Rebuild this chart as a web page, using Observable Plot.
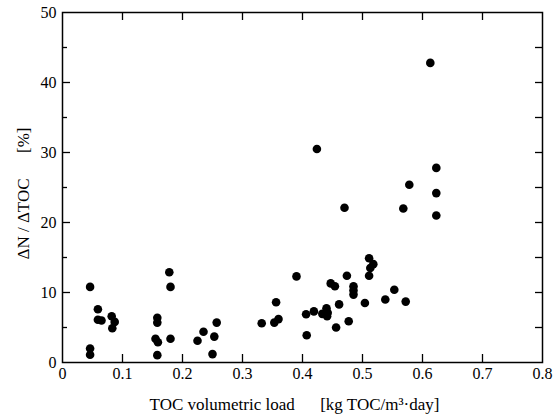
<!DOCTYPE html>
<html><head><meta charset="utf-8">
<script src="https://cdn.jsdelivr.net/npm/d3@7"></script>
<script src="https://cdn.jsdelivr.net/npm/@observablehq/plot@0.6"></script>
<style>
body{margin:0;background:#fff}
</style>
</head><body><div id="chart"></div>
<script>
// TOC volumetric load [kg TOC/m3·day]
const tocLoad = [0.046,0.046,0.046,0.059,0.059,0.065,0.082,0.087,0.083,0.158,0.158,0.155,0.159,0.158,0.178,0.180,0.180,0.225,0.235,0.250,0.253,0.257,0.332,0.353,0.356,0.360,0.390,0.406,0.407,0.419,0.424,0.433,0.440,0.442,0.441,0.447,0.454,0.456,0.461,0.470,0.474,0.477,0.485,0.485,0.485,0.504,0.511,0.513,0.518,0.511,0.538,0.553,0.568,0.572,0.578,0.613,0.623,0.623,0.623];
// ΔN / ΔTOC [%]
const ratio = [10.8,2.0,1.1,7.6,6.1,6.0,6.6,5.8,4.9,6.4,5.7,3.4,2.9,1.05,12.9,10.8,3.4,3.1,4.4,1.2,3.7,5.7,5.6,5.7,8.6,6.2,12.3,6.9,3.9,7.3,30.5,6.95,7.75,7.1,6.6,11.3,10.9,5.0,8.3,22.1,12.4,5.9,10.9,10.3,9.7,8.5,14.9,13.5,14.05,12.4,9.0,10.4,22.0,8.7,25.4,42.8,27.8,24.2,21.0];

const xTicks = [0,0.1,0.2,0.3,0.4,0.5,0.6,0.7,0.8];
const xTickLabels = ["0","0.1","0.2","0.3","0.4","0.5","0.6","0.7","0.8"];
const xInnerTicks = [0.1,0.2,0.3,0.4,0.5,0.6,0.7];
const yTicks = [0,10,20,30,40,50];
const yTickLabels = ["0","10","20","30","40","50"];
const yMajorInner = [10,20,30,40];
const yMinorInner = [5,15,25,35,45];
const yRightTicks = [5,10,15,20,25,30,35,40,45];
const xTitle = "TOC volumetric load\u2003\u2002[kg TOC/m\u00B3\u00B7day]";
const yTitle = "\u0394N / \u0394TOC\u2003\u2002[%]";

const points = tocLoad.map((x, i) => ({x, y: ratio[i]}));

const W = 557, H = 414, ML = 62, MR = 15, MT = 12, MB = 52;
const pw = W - ML - MR, ph = H - MT - MB;
const FF = "Times New Roman";

const chart = Plot.plot({
  width: W, height: H,
  marginLeft: ML, marginRight: MR, marginTop: MT, marginBottom: MB,
  style: {background: "white", color: "black"},
  x: {domain: [0, 0.8], axis: null},
  y: {domain: [0, 50], axis: null},
  marks: [
    Plot.frame({stroke: "black", strokeWidth: 1.5}),
    // tick labels
    Plot.text(xTicks, {x: d => d, frameAnchor: "bottom", text: (d, i) => xTickLabels[i], dy: 11, fontSize: 16, fontFamily: FF, fill: "black", textAnchor: "middle", lineAnchor: "middle"}),
    Plot.text(yTicks, {y: d => d, frameAnchor: "left", text: (d, i) => yTickLabels[i], dx: -6, fontSize: 16, fontFamily: FF, fill: "black", textAnchor: "end", lineAnchor: "middle"}),
    // inward ticks
    Plot.tickX(xInnerTicks, {x: d => d, insetTop: ph - 8, stroke: "black", strokeWidth: 1.3}),
    Plot.tickX(xInnerTicks, {x: d => d, insetBottom: ph - 8, stroke: "black", strokeWidth: 1.3}),
    Plot.tickY(yMajorInner, {y: d => d, insetRight: pw - 8, stroke: "black", strokeWidth: 1.3}),
    Plot.tickY(yMinorInner, {y: d => d, insetRight: pw - 5, stroke: "black", strokeWidth: 1.3}),
    Plot.tickY(yRightTicks, {y: d => d, insetLeft: pw - 7, stroke: "black", strokeWidth: 1.3}),
    Plot.dot(points, {x: "x", y: "y", r: 4.3, fill: "black", stroke: null}),
    Plot.text([xTitle], {frameAnchor: "bottom", text: d => d, dy: 42, dx: -8, fontSize: 17, fontFamily: FF, fill: "black", textAnchor: "middle", lineAnchor: "middle"}),
    Plot.text([yTitle], {frameAnchor: "left", text: d => d, dx: -39, dy: 6, rotate: -90, fontSize: 17, fontFamily: FF, fill: "black", textAnchor: "middle", lineAnchor: "middle"})
  ]
});
document.getElementById("chart").appendChild(chart);
</script>
</body></html>
